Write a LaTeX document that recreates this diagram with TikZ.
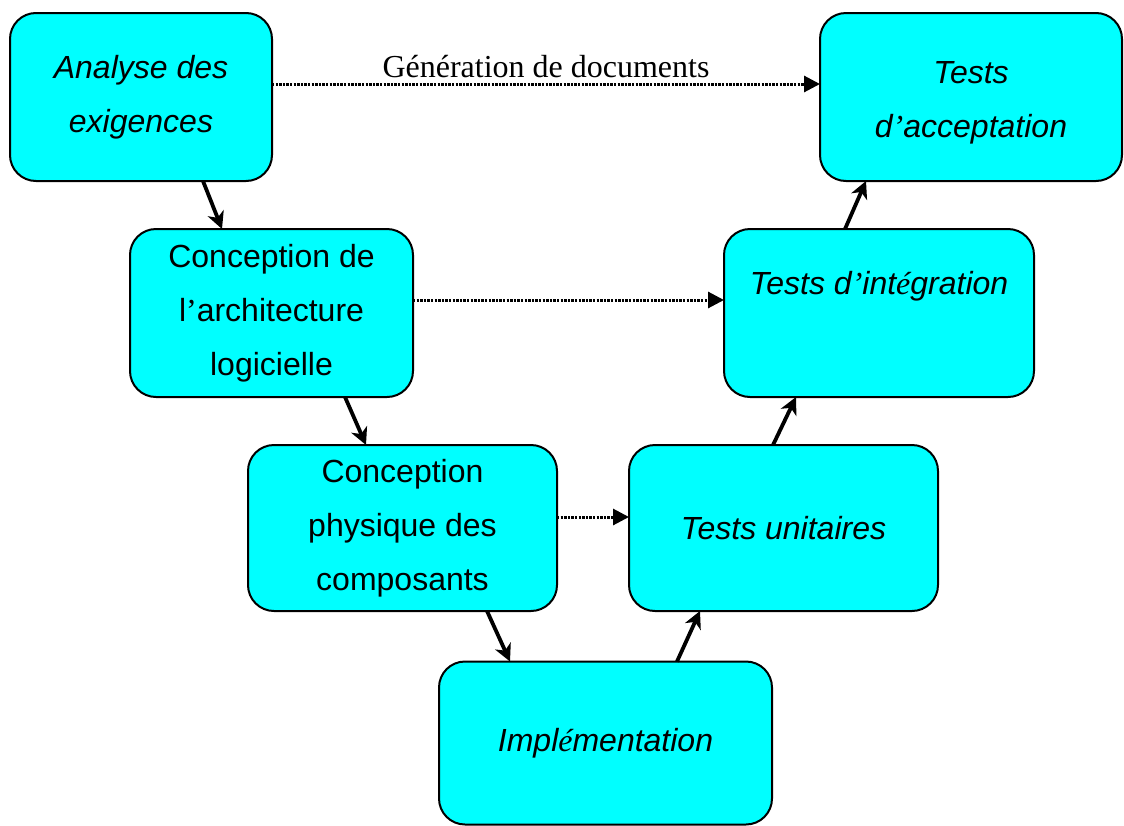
\documentclass[tikz,border=0pt]{standalone}
\usepackage{fontspec}
\setmainfont{Liberation Sans}
\newfontfamily\serifrm{Liberation Serif}
\usetikzlibrary{arrows.meta}
\definecolor{aqua}{RGB}{0,255,255}
\newcommand{\sapos}{{\serifrm ’}}
\newcommand{\seacute}{{\serifrm\itshape é}}
\newcommand{\lowerline}{\rule{0pt}{34pt}}
\tikzset{
  box/.style={draw=black, line width=2pt, fill=aqua, rounded corners=26pt,
    inner sep=0pt, outer sep=0pt, align=center,
    font=\fontsize{32}{54}\selectfont},
  flow/.style={line width=3.8pt, -{Stealth[length=17pt,width=17pt,inset=5pt]}},
  doc/.style={line width=3pt, dash pattern=on 2.4pt off 1.2pt,
    -{Triangle[length=16pt,width=16pt]}},
}
\begin{document}
\begin{tikzpicture}[x=1pt,y=-1pt]
\useasboundingbox (0,0) rectangle (1124,825);
\node[box, minimum width=262pt, minimum height=168pt] (A) at (141,97)
  {\itshape Analyse des\\ \itshape exigences};
\node[box, minimum width=302pt, minimum height=168pt] (TA) at (971,97)
  {\lowerline\itshape Tests\\ \itshape d\sapos acceptation};
\node[box, minimum width=283pt, minimum height=168pt] (CA) at (271.5,313)
  {Conception de\\ l\sapos architecture\\ logicielle};
\node[box, minimum width=310pt, minimum height=168pt] (TI) at (879,313)
  {\lowerline\itshape Tests d\sapos int\seacute gration\\ \strut};
\node[box, minimum width=309pt, minimum height=166pt] (CP) at (402.5,528)
  {Conception\\ physique des\\ composants};
\node[box, minimum width=309pt, minimum height=166pt] (TU) at (783.5,528)
  {\itshape Tests unitaires};
\node[box, minimum width=333pt, minimum height=163pt] (IM) at (605.5,743)
  {\itshape Impl\seacute mentation};
% flow arrows
\draw[flow] ([xshift=193pt]A.south west) -- ([xshift=92pt]CA.north west);
\draw[flow] ([xshift=215pt]CA.south west) -- ([xshift=118pt]CP.north west);
\draw[flow] ([xshift=239pt]CP.south west) -- ([xshift=71pt]IM.north west);
\draw[flow] ([xshift=238pt]IM.north west) -- ([xshift=71pt]TU.south west);
\draw[flow] ([xshift=144pt]TU.north west) -- ([xshift=72pt]TI.south west);
\draw[flow] ([xshift=121pt]TI.north west) -- ([xshift=46pt]TA.south west);
% document arrows
\draw[doc] ([yshift=13pt]A.east) -- node[above=1pt, font=\serifrm\fontsize{32}{38}\selectfont] (lbl) {Génération de documents} ([yshift=13pt]TA.west);
\draw[doc] ([yshift=13pt]CA.east) -- ([yshift=13pt]TI.west);
\draw[doc] ([yshift=11pt]CP.east) -- ([yshift=11pt]TU.west);
\end{tikzpicture}
\end{document}
